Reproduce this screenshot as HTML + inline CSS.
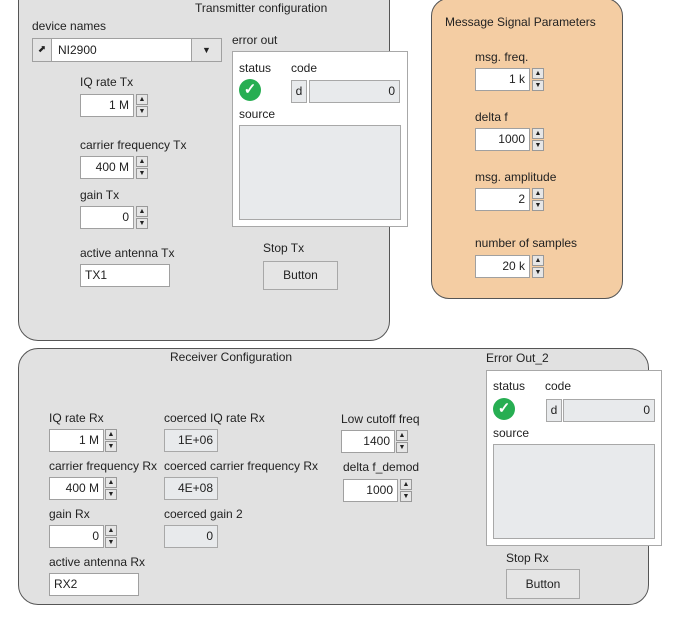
<!DOCTYPE html>
<html><head><meta charset="utf-8"><style>
*{box-sizing:border-box;margin:0;padding:0}
body{width:677px;height:617px;background:#fff;position:relative;overflow:hidden;font-family:"Liberation Sans",sans-serif;font-size:12px;color:#222}
.a{position:absolute}
.panel{position:absolute;background:#e1e1e1;border:1px solid #555;border-radius:20px}
.lbl{position:absolute;white-space:nowrap;font-size:12px;line-height:14px}
.num{position:absolute;background:#fff;border:1px solid #a0a0a0;text-align:right;padding-right:4px;font-size:12px;line-height:21px;height:23px}
.ind{position:absolute;background:#e8eaec;border:1px solid #a8a8a8;text-align:right;padding-right:4px;font-size:12px;line-height:21px;height:23px}
.sp{position:absolute;width:12px;height:11px;background:#e6e6e6;border:1px solid #999;font-size:7px;line-height:9px;text-align:center;color:#222}
.txt{position:absolute;background:#fff;border:1px solid #a0a0a0;padding-left:4px;font-size:12px;line-height:21px;height:23px}
.btn{position:absolute;background:#e5e5e5;border:1px solid #a8a8a8;text-align:center;font-size:12px}
.chk{position:absolute;width:22px;height:22px;border-radius:50%;background:#27ae52;color:#fff;font-size:15px;line-height:22px;text-align:center;font-weight:bold}
</style></head><body>

<!-- Transmitter -->
<div class="panel" style="left:18px;top:-20px;width:372px;height:361px"></div>
<div class="lbl" style="left:195px;top:1px">Transmitter configuration</div>
<div class="lbl" style="left:32px;top:19px">device names</div>
<div class="a" style="left:32px;top:38px;width:190px;height:24px;background:#fff;border:1px solid #a0a0a0"></div>
<div class="a" style="left:32px;top:38px;width:20px;height:24px;background:#e4e4e4;border:1px solid #a0a0a0;font-size:10px;text-align:center;line-height:22px">&#x2B08;</div>
<div class="lbl" style="left:58px;top:43px">NI2900</div>
<div class="a" style="left:191px;top:38px;width:31px;height:24px;background:#e4e4e4;border:1px solid #a0a0a0;font-size:9px;text-align:center;line-height:22px">&#9660;</div>

<div class="lbl" style="left:80px;top:75px">IQ rate Tx</div>
<div class="num" style="left:80px;top:94px;width:54px">1 M</div>
<div class="sp" style="left:136px;top:94px">&#9650;</div><div class="sp" style="left:136px;top:106px">&#9660;</div>
<div class="lbl" style="left:80px;top:138px">carrier frequency Tx</div>
<div class="num" style="left:80px;top:156px;width:54px">400 M</div>
<div class="sp" style="left:136px;top:156px">&#9650;</div><div class="sp" style="left:136px;top:168px">&#9660;</div>
<div class="lbl" style="left:80px;top:188px">gain Tx</div>
<div class="num" style="left:80px;top:206px;width:54px">0</div>
<div class="sp" style="left:136px;top:206px">&#9650;</div><div class="sp" style="left:136px;top:218px">&#9660;</div>
<div class="lbl" style="left:80px;top:246px">active antenna Tx</div>
<div class="txt" style="left:80px;top:264px;width:90px">TX1</div>

<div class="lbl" style="left:232px;top:33px">error out</div>
<div class="a" style="left:232px;top:51px;width:176px;height:176px;background:#fff;border:1px solid #a8a8a8"></div>
<div class="lbl" style="left:239px;top:61px">status</div>
<div class="lbl" style="left:291px;top:61px">code</div>
<div class="chk" style="left:239px;top:79px">&#10003;</div>
<div class="a" style="left:291px;top:80px;width:16px;height:23px;background:#e8eaec;border:1px solid #a8a8a8;text-align:center;line-height:21px">d</div>
<div class="ind" style="left:309px;top:80px;width:91px">0</div>
<div class="lbl" style="left:239px;top:107px">source</div>
<div class="a" style="left:239px;top:125px;width:162px;height:95px;background:#e8eaec;border:1px solid #a8a8a8"></div>
<div class="lbl" style="left:263px;top:241px">Stop Tx</div>
<div class="btn" style="left:263px;top:261px;width:75px;height:29px;line-height:27px">Button</div>

<!-- Message -->
<div class="panel" style="left:431px;top:-2px;width:192px;height:301px;background:#f4cda3;border-radius:18px"></div>
<div class="lbl" style="left:445px;top:15px">Message Signal Parameters</div>
<div class="lbl" style="left:475px;top:50px">msg. freq.</div>
<div class="num" style="left:475px;top:68px;width:55px">1 k</div>
<div class="sp" style="left:532px;top:68px">&#9650;</div><div class="sp" style="left:532px;top:80px">&#9660;</div>
<div class="lbl" style="left:475px;top:110px">delta f</div>
<div class="num" style="left:475px;top:128px;width:55px">1000</div>
<div class="sp" style="left:532px;top:128px">&#9650;</div><div class="sp" style="left:532px;top:140px">&#9660;</div>
<div class="lbl" style="left:475px;top:170px">msg. amplitude</div>
<div class="num" style="left:475px;top:188px;width:55px">2</div>
<div class="sp" style="left:532px;top:188px">&#9650;</div><div class="sp" style="left:532px;top:200px">&#9660;</div>
<div class="lbl" style="left:475px;top:236px">number of samples</div>
<div class="num" style="left:475px;top:255px;width:55px">20 k</div>
<div class="sp" style="left:532px;top:255px">&#9650;</div><div class="sp" style="left:532px;top:267px">&#9660;</div>

<!-- Receiver -->
<div class="panel" style="left:18px;top:348px;width:631px;height:257px"></div>
<div class="lbl" style="left:170px;top:350px">Receiver Configuration</div>
<div class="lbl" style="left:49px;top:411px">IQ rate Rx</div>
<div class="num" style="left:49px;top:429px;width:55px">1 M</div>
<div class="sp" style="left:105px;top:429px">&#9650;</div><div class="sp" style="left:105px;top:441px">&#9660;</div>
<div class="lbl" style="left:49px;top:459px">carrier frequency Rx</div>
<div class="num" style="left:49px;top:477px;width:55px">400 M</div>
<div class="sp" style="left:105px;top:477px">&#9650;</div><div class="sp" style="left:105px;top:489px">&#9660;</div>
<div class="lbl" style="left:49px;top:507px">gain Rx</div>
<div class="num" style="left:49px;top:525px;width:55px">0</div>
<div class="sp" style="left:105px;top:525px">&#9650;</div><div class="sp" style="left:105px;top:537px">&#9660;</div>
<div class="lbl" style="left:49px;top:555px">active antenna Rx</div>
<div class="txt" style="left:49px;top:573px;width:90px">RX2</div>

<div class="lbl" style="left:164px;top:411px">coerced IQ rate Rx</div>
<div class="ind" style="left:164px;top:429px;width:54px">1E+06</div>
<div class="lbl" style="left:164px;top:459px">coerced carrier frequency Rx</div>
<div class="ind" style="left:164px;top:477px;width:54px">4E+08</div>
<div class="lbl" style="left:164px;top:507px">coerced gain 2</div>
<div class="ind" style="left:164px;top:525px;width:54px">0</div>

<div class="lbl" style="left:341px;top:412px">Low cutoff freq</div>
<div class="num" style="left:341px;top:430px;width:54px">1400</div>
<div class="sp" style="left:396px;top:430px">&#9650;</div><div class="sp" style="left:396px;top:442px">&#9660;</div>
<div class="lbl" style="left:343px;top:460px">delta f_demod</div>
<div class="num" style="left:343px;top:479px;width:55px">1000</div>
<div class="sp" style="left:400px;top:479px">&#9650;</div><div class="sp" style="left:400px;top:491px">&#9660;</div>

<div class="lbl" style="left:486px;top:351px">Error Out_2</div>
<div class="a" style="left:486px;top:370px;width:176px;height:176px;background:#fff;border:1px solid #a8a8a8"></div>
<div class="lbl" style="left:493px;top:379px">status</div>
<div class="lbl" style="left:545px;top:379px">code</div>
<div class="chk" style="left:493px;top:398px">&#10003;</div>
<div class="a" style="left:546px;top:399px;width:16px;height:23px;background:#e8eaec;border:1px solid #a8a8a8;text-align:center;line-height:21px">d</div>
<div class="ind" style="left:563px;top:399px;width:92px">0</div>
<div class="lbl" style="left:493px;top:426px">source</div>
<div class="a" style="left:493px;top:444px;width:162px;height:95px;background:#e8eaec;border:1px solid #a8a8a8"></div>
<div class="lbl" style="left:506px;top:551px">Stop Rx</div>
<div class="btn" style="left:506px;top:569px;width:74px;height:30px;line-height:28px">Button</div>
</body></html>
